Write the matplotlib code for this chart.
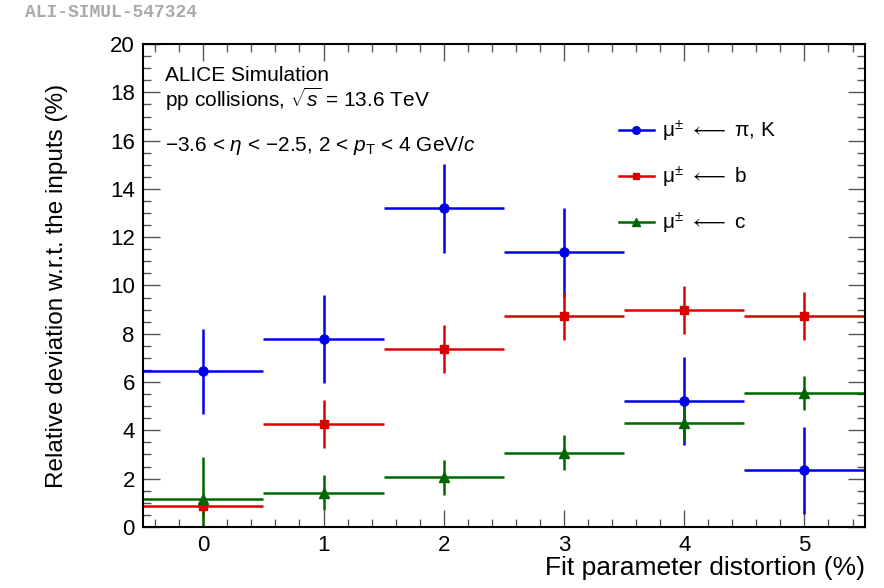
import matplotlib
matplotlib.use("Agg")
import matplotlib.pyplot as plt
from matplotlib.ticker import MultipleLocator
from matplotlib.lines import Line2D

plt.rcParams['font.family'] = ['Liberation Sans', 'DejaVu Sans']
plt.rcParams['mathtext.fontset'] = 'custom'
plt.rcParams['mathtext.rm'] = 'Liberation Sans'
plt.rcParams['mathtext.it'] = 'Liberation Sans:italic'
plt.rcParams['mathtext.bf'] = 'Liberation Sans:bold'

distortion = [0, 1, 2, 3, 4, 5]
pik_val = [6.45, 7.78, 13.2, 11.38, 5.2, 2.35]
pik_err = [1.76, 1.82, 1.85, 1.85, 1.82, 1.8]
b_val = [0.85, 4.27, 7.37, 8.74, 8.98, 8.74]
b_err = [0.4, 1.0, 1.0, 1.0, 1.0, 1.0]
c_val = [1.15, 1.41, 2.05, 3.08, 4.31, 5.55]
c_err = [1.76, 0.72, 0.74, 0.72, 0.75, 0.72]
bin_halfwidth = 0.5

fig = plt.figure(figsize=(8.84, 5.88), dpi=100)
ax = fig.add_axes([0.162, 0.104, 0.816, 0.821])

series = [
    (pik_val, pik_err, '#0000ee', 'o', 'μ$^{\\pm}$ ${\\longleftarrow}$ π, K', 6.5),
    (b_val, b_err, '#dd0000', 's', 'μ$^{\\pm}$ ${\\longleftarrow}$ b', 6),
    (c_val, c_err, '#006600', '^', 'μ$^{\\pm}$ ${\\longleftarrow}$ c', 6.5),
]
handles = []
for vals, errs, col, mk, lab, ms in series:
    ax.errorbar(distortion, vals, xerr=bin_halfwidth, yerr=errs, fmt=mk,
                color=col, ecolor=col, elinewidth=1.8, markersize=ms,
                capsize=0)
    handles.append(Line2D([], [], color=col, marker=mk, markersize=ms - 1,
                          linewidth=1.8, label=lab))

ax.set_xlim(-0.5, 5.5)
ax.set_ylim(0, 20)
ax.xaxis.set_major_locator(MultipleLocator(1))
ax.xaxis.set_minor_locator(MultipleLocator(0.2))
ax.yaxis.set_major_locator(MultipleLocator(2))
ax.yaxis.set_minor_locator(MultipleLocator(0.5))
ax.tick_params(which='both', direction='in', top=True, right=True, width=1.0, color='#555555')
ax.tick_params(which='major', length=12, labelsize=16, pad=6)
ax.tick_params(which='minor', length=6)
for s in ax.spines.values():
    s.set_linewidth(1.5)

ax.set_ylabel('Relative deviation w.r.t. the inputs (%)', fontsize=17.5, labelpad=30)
ax.set_xlabel('Fit parameter distortion (%)', fontsize=19, loc='right', labelpad=0)

ax.text(0.03, 0.935, 'ALICE Simulation', transform=ax.transAxes, fontsize=15, va='center')
ax.text(0.03, 0.885, r'pp collisions, $\sqrt{s}$ = 13.6 TeV', transform=ax.transAxes, fontsize=15, va='center')
ax.text(0.03, 0.79, r'−3.6 < $\it{\eta}$ < −2.5, 2 < $p_{\rm T}$ < 4 GeV/$c$', transform=ax.transAxes, fontsize=15, va='center')

leg = ax.legend(handles=handles, loc='upper left', bbox_to_anchor=(0.633, 0.885),
                frameon=False, fontsize=15, labelspacing=1.0, handlelength=1.7,
                handletextpad=0.4)

fig.text(0.028, 0.978, 'ALI-SIMUL-547324', fontsize=13, color='#aaaaaa',
         family='Liberation Mono', weight='bold', va='center')

fig.savefig('out.png', dpi=100)
